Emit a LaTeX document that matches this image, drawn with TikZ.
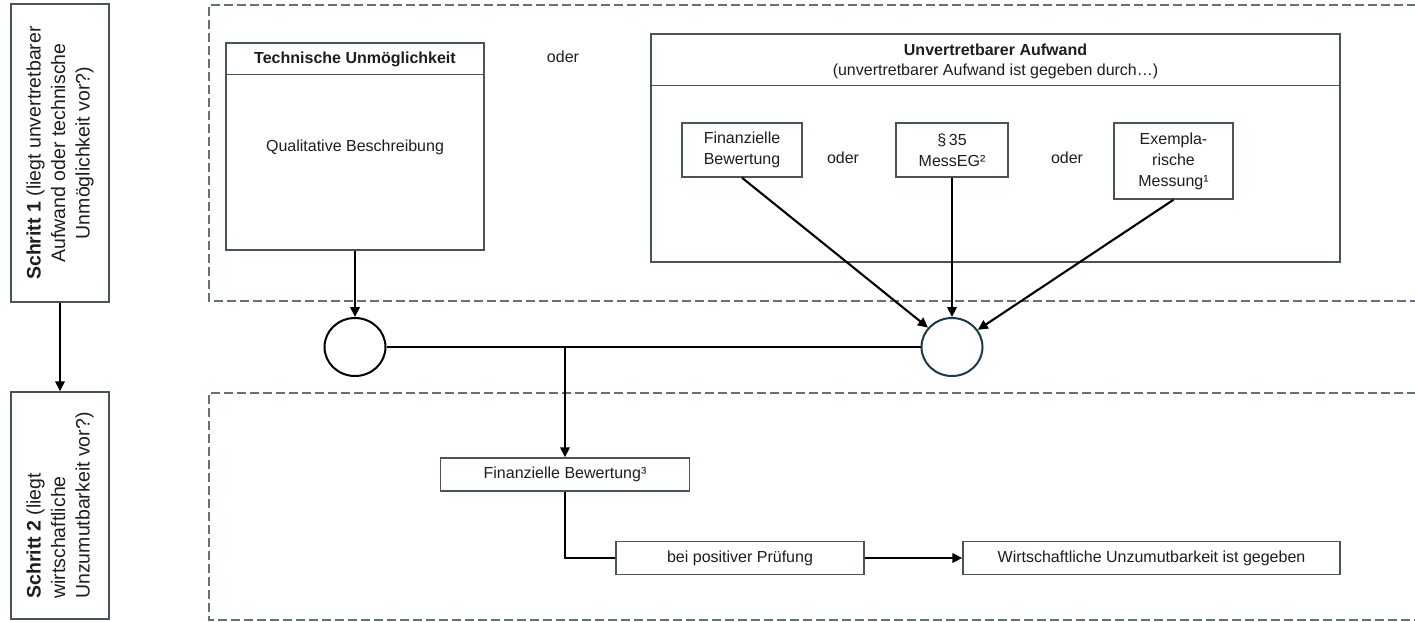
\documentclass[tikz,border=0pt]{standalone}
\usepackage{fontspec}
\setmainfont{Liberation Sans}
\usetikzlibrary{arrows.meta,shapes.geometric}
\definecolor{boxc}{RGB}{70,84,96}
\definecolor{dashc}{RGB}{95,114,126}
\definecolor{txtc}{RGB}{30,30,30}
\definecolor{circc}{RGB}{26,58,74}
\newcommand\mainfs{\fontsize{16}{21}\selectfont}
\newcommand\rotfs{\fontsize{19.5}{24.5}\selectfont}
\begin{document}
\begin{tikzpicture}[x=1pt,y=-1pt,
  stepbox/.style={draw=boxc, line width=1.5pt, fill=white, inner sep=0pt, text=txtc, font=\mainfs, align=center},
  lbl/.style={inner sep=0pt, text=txtc, font=\mainfs, align=center},
  rotlbl/.style={inner sep=0pt, text=txtc, font=\rotfs, rotate=90},
  dashbox/.style={draw=dashc, line width=1.4pt, dash pattern=on 9pt off 4pt},
  conn/.style={draw=black, line width=2.1pt},
  arr/.style={conn, -{Triangle[length=10pt,width=9.5pt]}},
  junc/.style={ellipse, draw, line width=2pt, minimum width=61pt, minimum height=58pt, inner sep=0pt, fill=white}
]
\useasboundingbox (0,0) rectangle (1415,621);

% dashed regions
\draw[dashbox] (1416,5) -- (209,5) -- (209,301) -- (1416,301);
\draw[dashbox] (1416,393) -- (209,393) -- (209,620) -- (1416,620);

% step boxes
\node[stepbox, minimum width=98pt, minimum height=298pt] (s1) at (60,153) {};
\node[rotlbl, align=center] (s1t) at (s1.center) {\textbf{Schritt 1} (liegt unvertretbarer\\Aufwand oder technische\\Unmöglichkeit vor?)};
\node[stepbox, minimum width=98pt, minimum height=227pt] (s2) at (60,505.5) {};
\node[rotlbl, align=left] (s2t) at (s2.center) {\textbf{Schritt 2} (liegt\\wirtschaftliche\\Unzumutbarkeit vor?)};
\draw[arr] (s1.south) -- (s2.north);

% Technische Unmoeglichkeit
\node[stepbox, minimum width=258pt, minimum height=207pt] (tech) at (355,146.5) {};
\draw[draw=boxc, line width=1.5pt] ([yshift=-32pt]tech.north west) -- ([yshift=-32pt]tech.north east);
\node[lbl, font=\mainfs\bfseries] (techh) at (355,59) {Technische Unmöglichkeit};
\node[lbl] (qual) at (355,147) {Qualitative Beschreibung};

\node[lbl] (oder1) at (563,57) {oder};

% Unvertretbarer Aufwand
\node[stepbox, minimum width=689pt, minimum height=228pt] (unv) at (995.5,148) {};
\draw[draw=boxc, line width=1.5pt] ([yshift=-52pt]unv.north west) -- ([yshift=-52pt]unv.north east);
\node[lbl, font=\mainfs\bfseries] (unvh) at (995.5,50) {Unvertretbarer Aufwand};
\node[lbl] (unvs) at (995.5,71) {(unvertretbarer Aufwand ist gegeben durch…)};

\node[stepbox, minimum width=120pt, minimum height=54pt] (fin) at (742,150) {Finanzielle\\Bewertung};
\node[lbl] (oder2) at (843,158) {oder};
\node[stepbox, minimum width=112pt, minimum height=54pt] (mess) at (952,150) {§\,35\\MessEG²};
\node[lbl] (oder3) at (1067,158) {oder};
\node[stepbox, minimum width=119pt, minimum height=76pt] (exm) at (1173.5,161) {Exempla-\\rische\\Messung¹};

% junction circles
\node[junc, draw=black] (c1) at (355,347) {};
\node[junc, draw=circc] (c2) at (952,347) {};

\draw[arr] (tech.south) -- (c1.north);
\draw[arr] (fin.south) -- (c2);
\draw[arr] (mess.south) -- (c2.north);
\draw[arr] (exm.south) -- (c2);
\draw[conn] (c1.east) -- (c2.west);
\coordinate (j) at (565,347);

% step 2 content
\node[stepbox, minimum width=249pt, minimum height=33pt] (fin3) at (565,474.5) {Finanzielle Bewertung³};
\node[stepbox, minimum width=248pt, minimum height=33pt] (bei) at (740,558) {bei positiver Prüfung};
\node[stepbox, minimum width=377pt, minimum height=33pt] (wirt) at (1151.5,558) {Wirtschaftliche Unzumutbarkeit ist gegeben};

\draw[arr] (j) -- (fin3.north);
\draw[conn] (fin3.south) |- (bei.west);
\draw[arr] (bei.east) -- (wirt.west);
\end{tikzpicture}
\end{document}
